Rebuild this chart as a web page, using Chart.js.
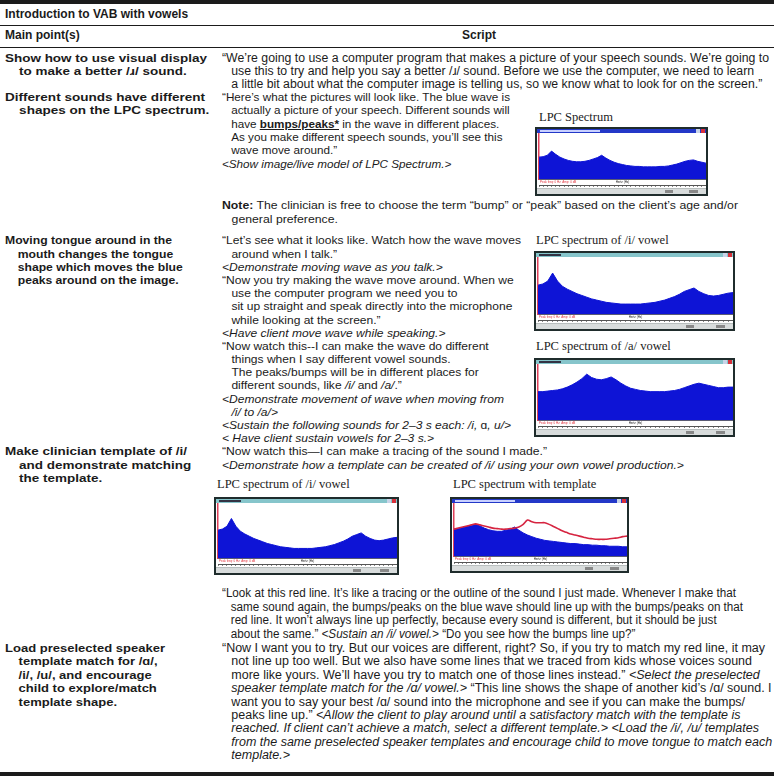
<!DOCTYPE html>
<html>
<head>
<meta charset="utf-8">
<script src="https://cdn.jsdelivr.net/npm/chart.js@4.4.1/dist/chart.umd.min.js"></script>
<style>
html, body { margin: 0; padding: 0; background: #fff; }
#page { position: relative; width: 774px; height: 781px; overflow: hidden;
        font-family: "Liberation Sans", Arial, Helvetica, sans-serif; color: #1b1b1b; }
.rule { position: absolute; left: 0; width: 774px; background: #1b1b1b; }
.blk { position: absolute; white-space: nowrap; transform-origin: 0 0; font-size: 11.5px; }
.blk .ln { display: block; width: max-content; height: var(--lh); line-height: var(--lh); }
.blk .ind { padding-left: 9px; }
.lft .ind { padding-left: 12px; }
.lft { font-weight: bold; }
.hd { position: absolute; font-weight: bold; font-size: 12px; white-space: nowrap; }
.ttl { position: absolute; font-family: "Liberation Serif", "Times New Roman", serif; font-size: 12.5px;
       white-space: nowrap; color: #222; }
.win { position: absolute; box-sizing: border-box; border: 2px solid #1f2c2c; background: #e3e7e7; overflow: hidden; }
.tbar { position: relative; height: 4px; }
.tbar.teal { background: #86c5cb; }
.tbar.blue { background: #2338c8; }
.tbar .x { position: absolute; right: 1px; top: 0; width: 4px; height: 4px; background: #d8303a; }
.tbar .x2 { position: absolute; right: 6px; top: 0; width: 4px; height: 4px; background: #c9d4e8; }
.tbar .tt { position: absolute; left: 3px; top: 1px; width: 22px; height: 2px; background: #334; }
.tbar.blue .tt { background: #c8d0ff; width: 60px; }
.win canvas { display: block; background: #fff; }
.sbar { position: relative; height: 6px; background: #d8dcdc; border-top: 1px solid #b8bebe; box-sizing: border-box; }
.sbar .k { position: absolute; top: 1px; height: 3px; background: #333; }
</style>
</head>
<body>
<div id="page">
  <div class="rule" style="top:0px;height:4px;"></div>
  <div class="hd" style="left:5px;top:7px;">Introduction to VAB with vowels</div>
  <div class="rule" style="top:25px;height:1px;"></div>
  <div class="hd" style="left:5px;top:28px;">Main point(s)</div>
  <div class="hd" style="left:462px;top:28px;">Script</div>
  <div class="rule" style="top:47px;height:1px;"></div>

  <!-- row 1 -->
  <div class="blk lft" data-w="202" style="left:5px;top:52px;--lh:13px;">
    <span class="ln">Show how to use visual display</span>
    <span class="ln ind">to make a better /ɹ/ sound.</span>
  </div>
  <div class="blk" data-w="547" style="left:222px;top:52px;--lh:13px;font-size:12px;">
    <span class="ln">“We’re going to use a computer program that makes a picture of your speech sounds. We’re going to</span>
    <span class="ln ind">use this to try and help you say a better /ɹ/ sound. Before we use the computer, we need to learn</span>
    <span class="ln ind">a little bit about what the computer image is telling us, so we know what to look for on the screen.”</span>
  </div>

  <!-- row 2 -->
  <div class="blk lft" data-w="200" style="left:5px;top:91.2px;--lh:13.3px;">
    <span class="ln">Different sounds have different</span>
    <span class="ln ind">shapes on the LPC spectrum.</span>
  </div>
  <div class="blk" data-w="288" style="left:222px;top:91.2px;--lh:13.3px;">
    <span class="ln">“Here’s what the pictures will look like. The blue wave is</span>
    <span class="ln ind">actually a picture of your speech. Different sounds will</span>
    <span class="ln ind">have <b><u>bumps/peaks*</u></b> in the wave in different places.</span>
    <span class="ln ind">As you make different speech sounds, you’ll see this</span>
    <span class="ln ind">wave move around.”</span>
    <span class="ln"><i>&lt;Show image/live model of LPC Spectrum.&gt;</i></span>
  </div>
  <div class="blk" data-w="516" style="left:222px;top:199px;--lh:13.6px;">
    <span class="ln"><b>Note:</b> The clinician is free to choose the term “bump” or “peak” based on the client’s age and/or</span>
    <span class="ln ind">general preference.</span>
  </div>

  <!-- row 3 -->
  <div class="blk lft" data-w="167" style="left:5px;top:234.4px;--lh:13.2px;">
    <span class="ln">Moving tongue around in the</span>
    <span class="ln ind">mouth changes the tongue</span>
    <span class="ln ind">shape which moves the blue</span>
    <span class="ln ind">peaks around on the image.</span>
  </div>
  <div class="blk" data-w="299" style="left:222px;top:234.4px;--lh:13.2px;">
    <span class="ln">“Let’s see what it looks like. Watch how the wave moves</span>
    <span class="ln ind">around when I talk.”</span>
    <span class="ln"><i>&lt;Demonstrate moving wave as you talk.&gt;</i></span>
    <span class="ln">“Now you try making the wave move around. When we</span>
    <span class="ln ind">use the computer program we need you to</span>
    <span class="ln ind">sit up straight and speak directly into the microphone</span>
    <span class="ln ind">while looking at the screen.”</span>
    <span class="ln"><i>&lt;Have client move wave while speaking.&gt;</i></span>
    <span class="ln">“Now watch this--I can make the wave do different</span>
    <span class="ln ind">things when I say different vowel sounds.</span>
    <span class="ln ind">The peaks/bumps will be in different places for</span>
    <span class="ln ind">different sounds, like <i>/i/</i> and <i>/a/</i>.”</span>
    <span class="ln"><i>&lt;Demonstrate movement of wave when moving from</i></span>
    <span class="ln ind"><i>/i/ to /a/&gt;</i></span>
    <span class="ln"><i>&lt;Sustain the following sounds for 2–3 s each: /i, </i>ɑ<i>, u/&gt;</i></span>
    <span class="ln"><i>&lt; Have client sustain vowels for 2–3 s.&gt;</i></span>
  </div>

  <!-- row 4 -->
  <div class="blk lft" data-w="182" style="left:5px;top:445.4px;--lh:13.2px;">
    <span class="ln">Make clinician template of /i/</span>
    <span class="ln ind">and demonstrate matching</span>
    <span class="ln ind">the template.</span>
  </div>
  <div class="blk" data-w="325" style="left:222px;top:445.4px;--lh:13.2px;">
    <span class="ln">“Now watch this—I can make a tracing of the sound I made.”</span>
    <span class="ln"><i>&lt;Demonstrate how a template can be created of /i/ using your own vowel production.&gt;</i></span>
  </div>
  <div class="blk" data-w="514" style="left:222px;top:587.2px;--lh:13.6px;font-size:12px;">
    <span class="ln">“Look at this red line. It’s like a tracing or the outline of the sound I just made. Whenever I make that</span>
    <span class="ln ind">same sound again, the bumps/peaks on the blue wave should line up with the bumps/peaks on that</span>
    <span class="ln ind">red line. It won’t always line up perfectly, because every sound is different, but it should be just</span>
    <span class="ln ind">about the same.” <i>&lt;Sustain an /i/ vowel.&gt;</i> “Do you see how the bumps line up?”</span>
  </div>

  <!-- row 5 -->
  <div class="blk lft" data-w="160" style="left:5px;top:642px;--lh:13.4px;">
    <span class="ln">Load preselected speaker</span>
    <span class="ln ind">template match for /ɑ/,</span>
    <span class="ln ind">/i/, /u/, and encourage</span>
    <span class="ln ind">child to explore/match</span>
    <span class="ln ind">template shape.</span>
  </div>
  <div class="blk" data-w="543" style="left:222px;top:642px;--lh:13.4px;font-size:12px;">
    <span class="ln">“Now I want you to try. But our voices are different, right? So, if you try to match my red line, it may</span>
    <span class="ln ind">not line up too well. But we also have some lines that we traced from kids whose voices sound</span>
    <span class="ln ind">more like yours. We’ll have you try to match one of those lines instead.” <i>&lt;Select the preselected</i></span>
    <span class="ln ind"><i>speaker template match for the /ɑ/ vowel.&gt;</i> “This line shows the shape of another kid’s /ɑ/ sound. I</span>
    <span class="ln ind">want you to say your best /ɑ/ sound into the microphone and see if you can make the bumps/</span>
    <span class="ln ind">peaks line up.” <i>&lt;Allow the client to play around until a satisfactory match with the template is</i></span>
    <span class="ln ind"><i>reached. If client can’t achieve a match, select a different template.&gt; &lt;Load the /i/, /u/ templates</i></span>
    <span class="ln ind"><i>from the same preselected speaker templates and encourage child to move tongue to match each</i></span>
    <span class="ln ind"><i>template.&gt;</i></span>
  </div>
  <div class="rule" style="top:772px;height:4px;"></div>

  <div class="ttl" style="left:539px;top:110px;">LPC Spectrum</div>
  <div class="ttl" style="left:536px;top:233px;">LPC spectrum of /i/ vowel</div>
  <div class="ttl" style="left:536px;top:339px;">LPC spectrum of /a/ vowel</div>
  <div class="ttl" style="left:217px;top:477px;">LPC spectrum of /i/ vowel</div>
  <div class="ttl" style="left:453px;top:477px;">LPC spectrum with template</div>
</div>

<script>
// frequency bins along the spectrum window (Hz)
const freqHz = [0, 125, 250, 375, 500, 625, 750, 875, 1000, 1125, 1250, 1375, 1500, 1625, 1750, 1875,
  2000, 2125, 2250, 2375, 2500, 2625, 2750, 2875, 3000, 3125, 3250, 3375, 3500, 3625, 3750, 3875,
  4000, 4125, 4250, 4375, 4500, 4625, 4750, 4875, 5000];

// relative amplitude (0 = bottom of window, 100 = top)
const spectrumGeneric = [48, 49, 52, 61, 54, 48, 44, 41, 39, 38, 38, 39, 41, 44, 47, 52, 46, 41, 37, 34,
  32, 30, 29, 28, 28, 27, 27, 27, 27, 28, 28, 29, 31, 33, 36, 39, 41, 42, 39, 37, 35];
const spectrumI = [51, 53, 58, 72, 58, 49, 44, 40, 36, 33, 30, 27, 25, 23, 21, 20, 19, 18, 18, 18,
  18, 18, 19, 20, 21, 23, 25, 28, 31, 35, 40, 43, 46, 40, 36, 33, 32, 33, 35, 37, 38];
const spectrumA = [51, 51, 52, 53, 54, 56, 59, 63, 68, 74, 82, 76, 73, 72, 74, 77, 72, 66, 61, 57,
  55, 53, 52, 51, 51, 51, 51, 52, 53, 55, 58, 61, 64, 66, 64, 62, 60, 58, 58, 59, 59];
const spectrumLive = [51, 52, 54, 56, 58, 60, 57, 53, 50, 48, 47, 47, 49, 51, 55, 49, 44, 40, 37, 34,
  32, 30, 29, 28, 27, 26, 25, 24, 24, 23, 22, 22, 21, 21, 20, 20, 19, 19, 19, 18, 18];
const templateI = [51, 53, 55, 57, 59, 61, 59, 57, 55, 53, 52, 51, 51, 52, 53, 55, 60, 68, 65, 63,
  63, 63, 60, 56, 52, 48, 45, 42, 40, 38, 36, 34, 33, 32, 32, 32, 33, 34, 35, 37, 38];

const BLUE = 'rgb(14, 20, 214)';
const RED = 'rgb(214, 36, 64)';

// fit each text block horizontally to the width of its first line in the picture
document.querySelectorAll('.blk[data-w]').forEach(b => {
    const first = b.querySelector('.ln');
    const w = first.getBoundingClientRect().width;
    b.style.transform = 'scaleX(' + (parseFloat(b.dataset.w) / w) + ')';
});

const readout = {
    id: 'readout',
    afterDraw(chart) {
        const {ctx, chartArea} = chart;
        ctx.save();
        ctx.fillStyle = '#e0303a';
        ctx.font = '3px "Liberation Sans"';
        ctx.textBaseline = 'top';
        ctx.fillText('Peak freq: 0 Hz  Amp: 0 dB', chartArea.left + 1, chartArea.bottom + 1);
        ctx.restore();
    }
};

function makeWindow(x, y, w, h, bar, series, template) {
    const win = document.createElement('div');
    win.className = 'win';
    win.style.left = x + 'px';
    win.style.top = y + 'px';
    win.style.width = w + 'px';
    win.style.height = h + 'px';
    win.innerHTML = '<div class="tbar ' + bar + '"><span class="tt"></span><span class="x2"></span><span class="x"></span></div>';
    const canvas = document.createElement('canvas');
    canvas.width = w - 4;
    canvas.height = h - 4 - 4 - 6;
    win.appendChild(canvas);
    const sbar = document.createElement('div');
    sbar.className = 'sbar';
    sbar.innerHTML = '<span class="k" style="right:' + Math.round(w * 0.22) + 'px;width:3px"></span>' +
        '<span class="k" style="right:' + Math.round(w * 0.22 - 5) + 'px;width:8px;background:#888"></span>' +
        '<span class="k" style="right:8px;width:9px;background:#888"></span>';
    win.appendChild(sbar);
    document.getElementById('page').appendChild(win);

    const datasets = [{
        data: series, fill: 'origin', backgroundColor: BLUE, borderColor: BLUE,
        borderWidth: 1, pointRadius: 0, tension: 0, order: 1
    }];
    if (template) {
        datasets.push({
            data: template, fill: false, borderColor: RED, borderWidth: 1.6,
            pointRadius: 0, tension: 0.3, order: 0
        });
    }
    new Chart(canvas, {
        type: 'line',
        data: {labels: freqHz, datasets: datasets},
        plugins: [readout],
        options: {
            responsive: false,
            animation: false,
            events: [],
            layout: {padding: {left: 2, right: 0, top: 0, bottom: 1}},
            plugins: {legend: {display: false}, tooltip: {enabled: false}},
            scales: {
                x: {
                    offset: false,
                    grid: {display: false, drawTicks: false},
                    border: {color: '#666', width: 1},
                    ticks: {display: false},
                    title: {display: true, text: 'Hertz (Hz)', color: '#222', font: {size: 3}, padding: {top: 1, bottom: 1}}
                },
                x2: {
                    type: 'category',
                    position: 'bottom',
                    offset: false,
                    grid: {drawOnChartArea: false, tickLength: 2, lineWidth: 0.6, color: '#333'},
                    border: {color: '#555', width: 1},
                    ticks: {display: false}
                },
                y: {
                    min: 0,
                    max: 100,
                    grid: {display: false, drawTicks: false},
                    ticks: {display: false},
                    border: {color: '#e0405a', width: 1.5}
                }
            }
        }
    });
}

makeWindow(535, 127, 173, 69, 'blue', spectrumGeneric);
makeWindow(534, 251, 201, 80, 'teal', spectrumI);
makeWindow(534, 358, 201, 79, 'teal', spectrumA);
makeWindow(214, 497, 185, 78, 'teal', spectrumI);
makeWindow(450, 497, 179, 76, 'blue', spectrumLive, templateI);
</script>
</body>
</html>
